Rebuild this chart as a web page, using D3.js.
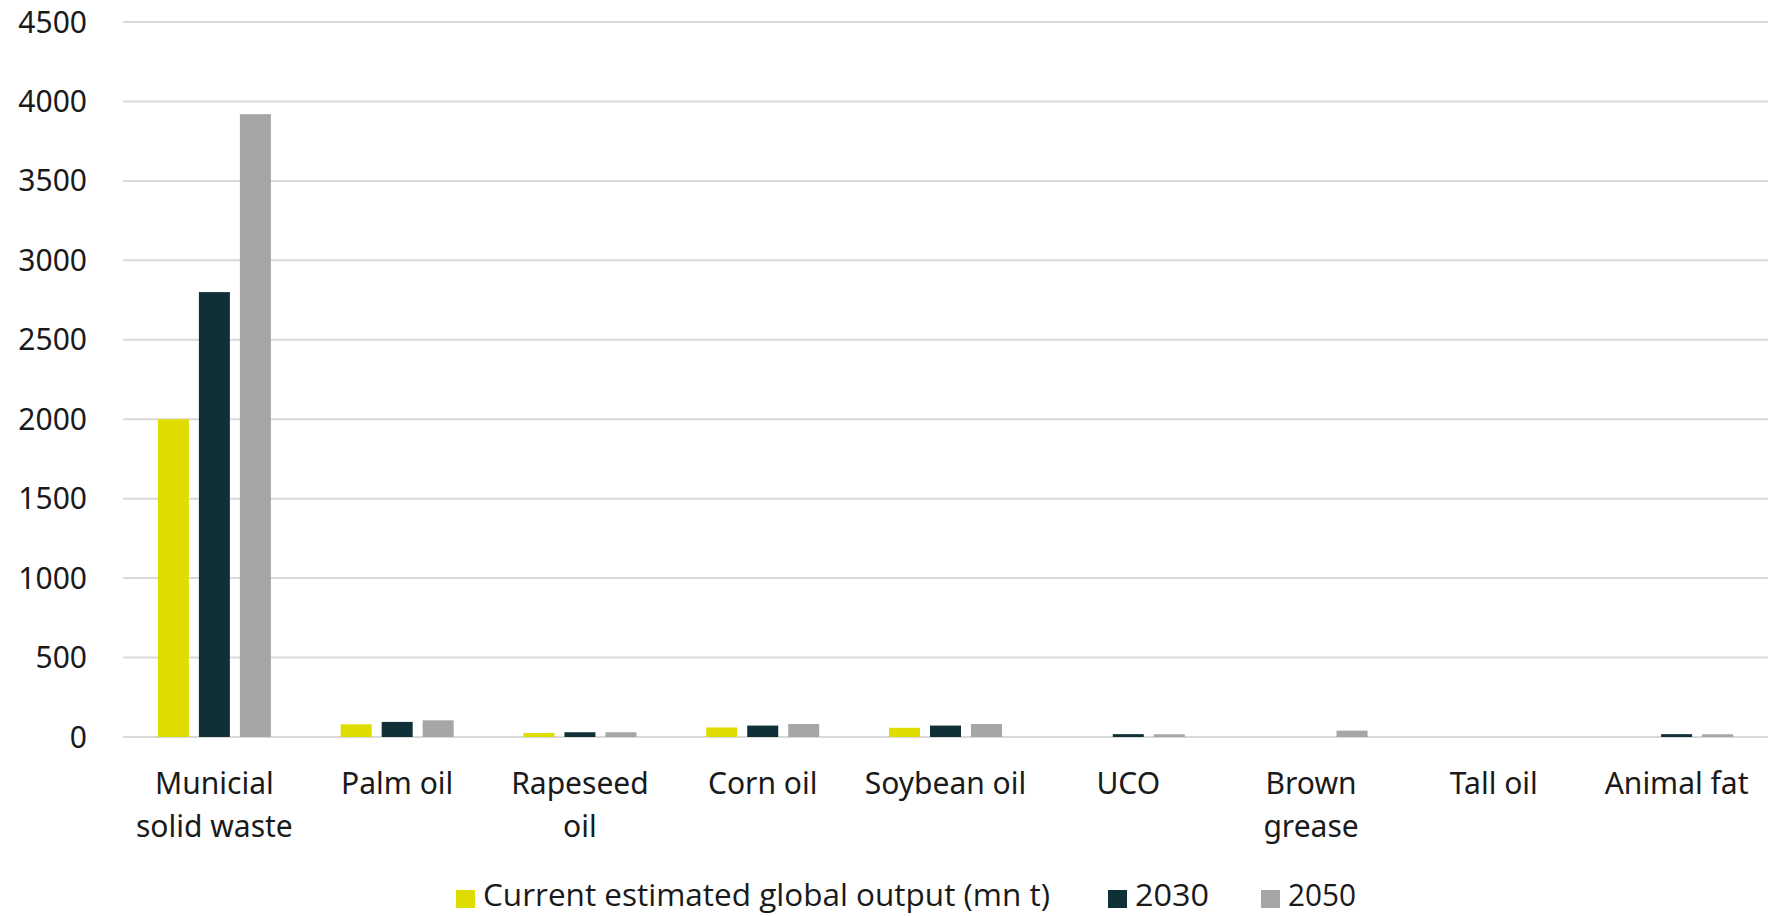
<!DOCTYPE html>
<html>
<head>
<meta charset="utf-8">
<script src="https://cdn.jsdelivr.net/npm/d3@7"></script>
<style>
  body { margin: 0; background: #fff; }
  svg { display: block; }
</style>
</head>
<body>
<svg id="chart"></svg>
<script>
// categories, each label split into lines
const categories = [
    ['Municial', 'solid waste'],
    ['Palm oil'],
    ['Rapeseed', 'oil'],
    ['Corn oil'],
    ['Soybean oil'],
    ['UCO'],
    ['Brown', 'grease'],
    ['Tall oil'],
    ['Animal fat']
];

const seriesNames = ['Current estimated global output (mn t)', '2030', '2050'];

const currentOutput = [2000, 80, 25, 60, 58, 0, 0, 0, 0];
const values2030 = [2800, 95, 30, 72, 72, 18, 0, 0, 18];
const values2050 = [3920, 105, 30, 82, 82, 17, 40, 0, 17];

const yTicks = [0, 500, 1000, 1500, 2000, 2500, 3000, 3500, 4000, 4500];

const colors = ['#dfdc00', '#0f3037', '#a6a6a6'];

const svgWidth = 1768;
const svgHeight = 916;
const margin = { top: 22, right: 0, bottom: 179, left: 123 };
const width = svgWidth - margin.left - margin.right;
const height = svgHeight - margin.top - margin.bottom;

const allSeries = [currentOutput, values2030, values2050];

const svg = d3.select('#chart')
    .attr('width', svgWidth)
    .attr('height', svgHeight);

const g = svg.append('g')
    .attr('transform', `translate(${margin.left}, ${margin.top})`);

const x0 = d3.scaleBand()
    .domain(d3.range(categories.length))
    .range([0, width])
    .padding(0);

// group of 3 bars, 113px wide, centred in each category band
const groupW = 113;
const x1 = d3.scaleBand()
    .domain(d3.range(seriesNames.length))
    .range([(x0.bandwidth() - groupW) / 2, (x0.bandwidth() + groupW) / 2])
    .paddingInner(0.244)
    .paddingOuter(0);

const y = d3.scaleLinear()
    .domain([0, 4500])
    .range([height, 0]);

// gridlines
g.append('g')
    .selectAll('line')
    .data(yTicks)
    .enter()
    .append('line')
    .attr('x1', 0)
    .attr('x2', width)
    .attr('y1', d => y(d))
    .attr('y2', d => y(d))
    .attr('stroke', '#d9d9d9')
    .attr('stroke-width', 2);

// y tick labels
g.append('g')
    .selectAll('text')
    .data(yTicks)
    .enter()
    .append('text')
    .attr('x', -36)
    .attr('y', d => y(d))
    .attr('dy', '0.35em')
    .attr('text-anchor', 'end')
    .attr('font-family', '"Noto Sans", "Open Sans", sans-serif')
    .attr('font-size', 30)
    .attr('fill', '#1a1a1a')
    .text(d => d);

// bars
const groups = g.selectAll('g.cat')
    .data(categories)
    .enter()
    .append('g')
    .attr('class', 'cat')
    .attr('transform', (d, i) => `translate(${x0(i)}, 0)`);

groups.selectAll('rect')
    .data((d, i) => allSeries.map((s, k) => ({ k: k, v: s[i] })))
    .enter()
    .append('rect')
    .attr('x', d => x1(d.k))
    .attr('width', x1.bandwidth())
    .attr('y', d => y(d.v))
    .attr('height', d => y(0) - y(d.v))
    .attr('fill', d => colors[d.k]);

// category labels
const labels = g.append('g')
    .selectAll('text')
    .data(categories)
    .enter()
    .append('text')
    .attr('x', (d, i) => x0(i) + x0.bandwidth() / 2)
    .attr('y', height + 57)
    .attr('text-anchor', 'middle')
    .attr('font-family', '"Noto Sans", "Open Sans", sans-serif')
    .attr('font-size', 30)
    .attr('fill', '#1a1a1a');

labels.selectAll('tspan')
    .data(d => d)
    .enter()
    .append('tspan')
    .attr('x', function () { return d3.select(this.parentNode).attr('x'); })
    .attr('dy', (d, i) => i === 0 ? 0 : 43)
    .text(d => d);

// legend
const legendItems = [
    { x: 456, textLen: 567 },
    { x: 1108, textLen: 74 },
    { x: 1261, textLen: 68 }
];

const legend = svg.append('g');

legend.selectAll('rect')
    .data(seriesNames)
    .enter()
    .append('rect')
    .attr('x', (d, i) => legendItems[i].x)
    .attr('y', 890)
    .attr('width', 19)
    .attr('height', 18)
    .attr('fill', (d, i) => colors[i]);

legend.selectAll('text')
    .data(seriesNames)
    .enter()
    .append('text')
    .attr('x', (d, i) => legendItems[i].x + 27)
    .attr('y', 906)
    .attr('font-family', '"Liberation Sans Narrow", "Open Sans", sans-serif')
    .attr('font-size', 31)
    .attr('fill', '#1a1a1a')
    .attr('textLength', (d, i) => legendItems[i].textLen)
    .attr('lengthAdjust', 'spacingAndGlyphs')
    .text(d => d);
</script>
</body>
</html>
